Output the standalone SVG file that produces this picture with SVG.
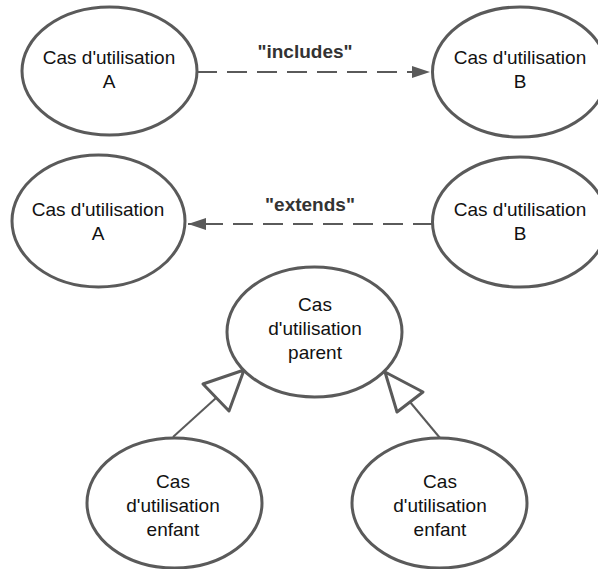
<svg xmlns="http://www.w3.org/2000/svg" width="598" height="569" viewBox="0 0 598 569">
<style>
.node ellipse{fill:#ffffff;stroke:#5a5a5a;stroke-width:3}
.node text{font-family:"Liberation Sans",Arial,sans-serif;font-size:19px;fill:#111;text-anchor:middle}
.lbl{font-family:"Liberation Sans",Arial,sans-serif;font-size:19px;font-weight:bold;fill:#333;text-anchor:middle}
.dash{stroke:#5a5a5a;stroke-width:2;stroke-dasharray:20 10;fill:none}
.gen{stroke:#5a5a5a;stroke-width:2;fill:none}
.tri{fill:#ffffff;stroke:#5a5a5a;stroke-width:3;stroke-linejoin:round}
</style>
<defs>
<marker id="ah" markerWidth="18" markerHeight="12" refX="18" refY="6" orient="auto" markerUnits="userSpaceOnUse">
<path d="M0,0 L18,6 L0,12 Z" fill="#5a5a5a"/>
</marker>
</defs>
<rect width="598" height="569" fill="#ffffff"/>
<g id="connectors">
<path class="dash" d="M197,72 L430,72" marker-end="url(#ah)"/>
<text class="lbl" x="305" y="58">"includes"</text>
<path class="dash" d="M433,224 L188,224" marker-end="url(#ah)"/>
<text class="lbl" x="310" y="211">"extends"</text>
<path class="gen" d="M173,437 L216,398"/>
<path class="tri" d="M244,370 L203,384 L229,411 Z"/>
<path class="gen" d="M440,438 L410,402"/>
<path class="tri" d="M385,372 L423,392 L397,412 Z"/>
</g>
<g id="uc-a1" class="node">
<ellipse cx="109.5" cy="71" rx="87.5" ry="64"/>
<text x="109" y="64">Cas d'utilisation</text>
<text x="109" y="88">A</text>
</g>
<g id="uc-b1" class="node">
<ellipse cx="520" cy="72" rx="87.5" ry="65"/>
<text x="520" y="64">Cas d'utilisation</text>
<text x="520" y="88">B</text>
</g>
<g id="uc-a2" class="node">
<ellipse cx="98.5" cy="221" rx="86.5" ry="66"/>
<text x="98" y="216">Cas d'utilisation</text>
<text x="98" y="240">A</text>
</g>
<g id="uc-b2" class="node">
<ellipse cx="520" cy="222" rx="87.5" ry="65"/>
<text x="520" y="216">Cas d'utilisation</text>
<text x="520" y="240">B</text>
</g>
<g id="uc-parent" class="node">
<ellipse cx="314.5" cy="332" rx="87.5" ry="65"/>
<text x="315" y="311">Cas</text>
<text x="315" y="335">d'utilisation</text>
<text x="315" y="359">parent</text>
</g>
<g id="uc-child1" class="node">
<ellipse cx="174.5" cy="503" rx="87.5" ry="65"/>
<text x="173" y="488">Cas</text>
<text x="173" y="512">d'utilisation</text>
<text x="173" y="536">enfant</text>
</g>
<g id="uc-child2" class="node">
<ellipse cx="439.5" cy="503" rx="87.5" ry="65"/>
<text x="440" y="488">Cas</text>
<text x="440" y="512">d'utilisation</text>
<text x="440" y="536">enfant</text>
</g>
</svg>
